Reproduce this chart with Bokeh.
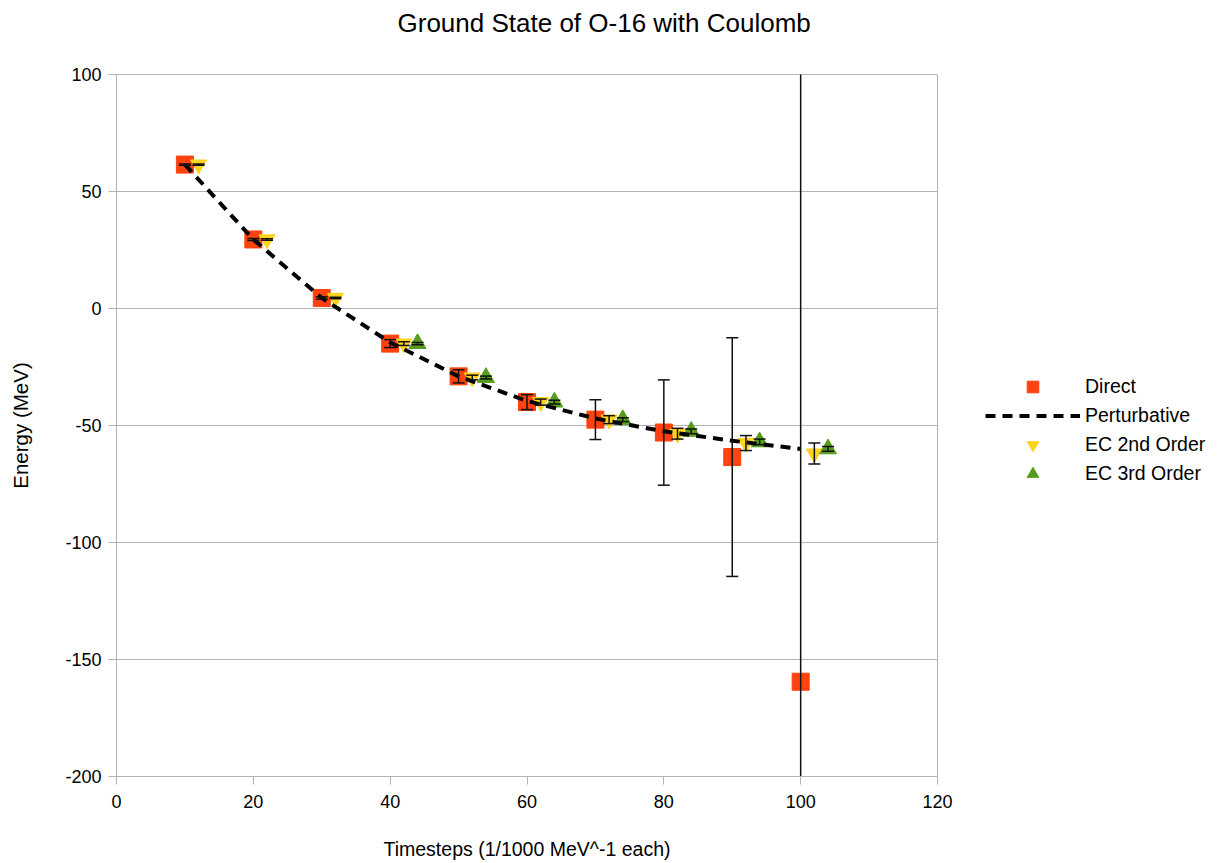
from bokeh.plotting import figure
from bokeh.models import (ColumnDataSource, Range1d, SingleIntervalTicker, Legend, LegendItem,
                          PrintfTickFormatter, LinearAxis, FixedTicker)
from bokeh.transform import dodge
from bokeh.embed import file_html
from bokeh.resources import INLINE

# ---- data ----
timesteps = [10, 20, 30, 40, 50, 60, 70, 80, 90, 100]
direct = [61.5, 29.5, 4.5, -15.0, -29.0, -40.0, -47.5, -53.0, -63.5, -159.5]
direct_err = [0.3, 0.4, 0.5, 1.7, 2.8, 3.2, 8.5, 22.5, 51.0, 300.0]
perturbative = [61.5, 29.5, 4.5, -14.5, -29.0, -39.5, -47.0, -52.5, -56.5, -60.0]
ec2 = [61.5, 29.5, 4.5, -15.0, -29.5, -40.0, -47.5, -53.5, -57.5, -62.0]
ec2_err = [0.3, 0.3, 0.3, 0.8, 1.0, 1.3, 1.7, 2.3, 3.2, 4.5]
ec3_timesteps = [40, 50, 60, 70, 80, 90, 100]
ec3 = [-15.0, -29.5, -40.0, -47.5, -52.5, -57.0, -60.0]
ec3_err = [0.5, 0.6, 0.8, 0.8, 1.0, 1.2, 1.0]

FONT = "Liberation Sans"
RED = "#ff420e"
YEL = "#ffd320"
GRN = "#579d1c"
GRAY = "#b3b3b3"


def src(xs, ys, es):
    return ColumnDataSource(dict(x=xs, y=ys,
                                 lo=[a - b for a, b in zip(ys, es)],
                                 hi=[a + b for a, b in zip(ys, es)]))


s_dir = src(timesteps, direct, direct_err)
s_ec2 = src(timesteps, ec2, ec2_err)
s_ec3 = src(ec3_timesteps, ec3, ec3_err)
s_per = ColumnDataSource(dict(x=timesteps, y=perturbative))

p = figure(frame_width=821, frame_height=702,
           min_border_left=116, min_border_right=267,
           min_border_top=74, min_border_bottom=80,
           x_range=Range1d(0, 120), y_range=Range1d(-200, 100),
           output_backend="svg", toolbar_location=None,
           background_fill_color="white", border_fill_color="white")

xax = p.below[0]
yax = p.left[0]

p.title.text = "Ground State of O-16 with Coulomb"
p.title.text_font = FONT
p.title.text_font_size = "26px"
p.title.text_font_style = "normal"
p.title.text_color = "#000000"
p.title.align = "left"
p.title.offset = 281
p.title.standoff = 0

# invisible spacer (one hidden tick, blank label) between the title and the frame
spacer = LinearAxis(ticker=FixedTicker(ticks=[60]), axis_line_color=None,
                    major_tick_line_color=None, minor_tick_line_color=None,
                    major_tick_out=37, major_tick_in=0, major_label_standoff=0,
                    major_label_overrides={60: ""}, major_label_text_font_size="1px")
p.add_layout(spacer, "above")

p.outline_line_color = GRAY
p.xgrid.visible = False
p.ygrid.grid_line_color = GRAY
p.ygrid.grid_line_width = 1

xax.ticker = SingleIntervalTicker(interval=20)
yax.ticker = SingleIntervalTicker(interval=50)
for ax in (xax, yax):
    ax.formatter = PrintfTickFormatter(format="%d")
    ax.axis_line_color = GRAY
    ax.major_tick_line_color = GRAY
    ax.major_tick_out = 8
    ax.major_tick_in = 0
    ax.minor_tick_line_color = None
    ax.major_label_text_font = FONT
    ax.major_label_text_font_size = "18px"
    ax.major_label_text_color = "#000000"
    ax.axis_label_text_font = FONT
    ax.axis_label_text_font_style = "normal"
    ax.axis_label_text_color = "#000000"
xax.axis_label = "Timesteps (1/1000 MeV^-1 each)"
yax.axis_label = "Energy (MeV)"
xax.axis_label_text_font_size = "19.5px"
yax.axis_label_text_font_size = "20.5px"
xax.major_label_standoff = 10
yax.major_label_standoff = 7
xax.axis_label_standoff = 27
yax.axis_label_standoff = 30

# markers
r_dir = p.scatter(x="x", y="y", source=s_dir, marker="square", size=17,
                  fill_color=RED, line_color=RED)
r_ec2 = p.scatter(x=dodge("x", 2, range=p.x_range), y="y", source=s_ec2,
                  marker="inverted_triangle", size=16, fill_color=YEL, line_color=YEL)
r_ec3 = p.scatter(x=dodge("x", 4, range=p.x_range), y="y", source=s_ec3,
                  marker="triangle", size=17, fill_color=GRN, line_color=GRN)
r_per = p.line(x="x", y="y", source=s_per, line_color="black", line_width=4,
               line_dash="10 7")

# error bars
for s, off in ((s_dir, 0), (s_ec2, 2), (s_ec3, 4)):
    xx = dodge("x", off, range=p.x_range)
    p.segment(x0=xx, y0="lo", x1=xx, y1="hi", source=s, line_color="#111111",
              line_width=1.5)
    p.scatter(x=xx, y="lo", source=s, marker="dash", size=12, line_color="#111111",
              line_width=1.5)
    p.scatter(x=xx, y="hi", source=s, marker="dash", size=12, line_color="#111111",
              line_width=1.5)

legend = Legend(items=[
    LegendItem(label="Direct", renderers=[r_dir]),
    LegendItem(label="Perturbative", renderers=[r_per]),
    LegendItem(label="EC 2nd Order", renderers=[r_ec2]),
    LegendItem(label="EC 3rd Order", renderers=[r_ec3]),
], location=(48, 288))
legend.border_line_color = None
legend.background_fill_alpha = 0
legend.padding = 0
legend.margin = 0
legend.spacing = 0
legend.glyph_width = 95
legend.glyph_height = 29
legend.label_height = 29
legend.label_standoff = 5
legend.label_text_font = FONT
legend.label_text_font_size = "19.5px"
legend.label_text_color = "#000000"
p.add_layout(legend, "right")

open("out.html", "w").write(file_html(p, INLINE))
